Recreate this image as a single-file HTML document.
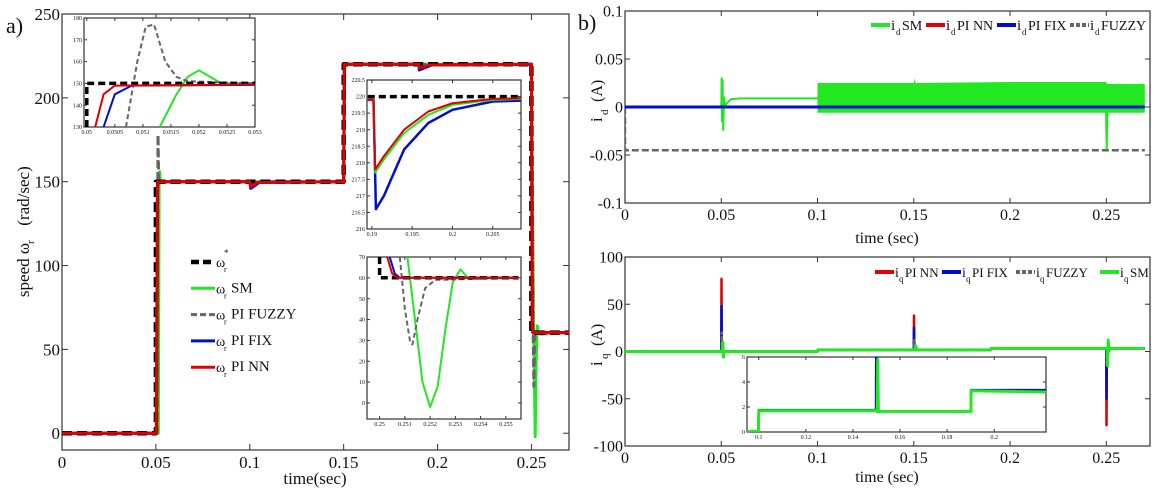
<!DOCTYPE html>
<html><head><meta charset="utf-8">
<style>
html,body{margin:0;padding:0;background:#fff;}
svg{display:block;font-family:"Liberation Serif",serif;}
</style></head>
<body>
<svg id="fig" width="1157" height="489" viewBox="0 0 1157 489" xmlns="http://www.w3.org/2000/svg"></svg>
<script>
// ===== Panel a: speed =====
const aT_ref=[0,0.05,0.05,0.15,0.15,0.25,0.25,0.27];
const aV_ref=[0,0,150,150,220,220,60,60];
const aT_nn=[0,0.0502,0.0508,0.051,0.1,0.1005,0.104,0.15,0.1503,0.19,0.1903,0.196,0.25,0.2504,0.2507,0.27];
const aV_nn=[0,0,148,150,150,147,149.5,150,220,220,217.8,219.6,220,65,60,60];
const aT_fix=[0,0.0503,0.0509,0.0512,0.1,0.1005,0.105,0.15,0.1504,0.19,0.1903,0.197,0.25,0.2504,0.2508,0.27];
const aV_fix=[0,0,147,150,150,146,149.5,150,220,220,216.6,219.6,220,65,60,60];
const aT_fuz=[0,0.0505,0.0511,0.0515,0.0518,0.1,0.15,0.1504,0.25,0.2508,0.2513,0.2518,0.27];
const aV_fuz=[0,0,178,152,150,150,150,220,220,70,28,59,60];
const aT_sm=[0,0.0513,0.0517,0.052,0.0523,0.1,0.15,0.1506,0.25,0.2511,0.252,0.2525,0.2529,0.2532,0.2535,0.27];
const aV_sm=[0,0,150,156,150,150,150,220,220,70,-2,40,60,64,60,60];
const aXTicks=[0,0.05,0.1,0.15,0.2,0.25];
const aXLabels=["0","0.05","0.1","0.15","0.2","0.25"];
const aYTicks=[0,50,100,150,200,250];
// inset 1
const i1T_ref=[0.05,0.05,0.053]; const i1V_ref=[130,150,150];
const i1T_nn=[0.05015,0.0503,0.0505,0.053]; const i1V_nn=[130,145,149,149.5];
const i1T_fix=[0.0503,0.0505,0.0508,0.053]; const i1V_fix=[130,145,149,149.3];
const i1T_fuz=[0.0507,0.0509,0.05105,0.0512,0.0514,0.0516,0.0518,0.053]; const i1V_fuz=[130,160,176,177,160,153,151,150];
const i1T_sm=[0.0513,0.0516,0.0518,0.052,0.0522,0.0524,0.053]; const i1V_sm=[130,145,153,156,153,150,150];
const i1XTicks=[0.05,0.0505,0.051,0.0515,0.052,0.0525,0.053];
const i1XLabels=["0.05","0.0505","0.051","0.0515","0.052","0.0525","0.053"];
const i1YTicks=[130,140,150,160,170,180];
// inset 2
const i2T_ref=[0.1895,0.209]; const i2V_ref=[220,220];
const i2T_nn=[0.1895,0.1902,0.1904,0.1915,0.194,0.197,0.2,0.205,0.209]; const i2V_nn=[219.9,219.9,217.8,218.2,219.0,219.55,219.8,219.93,219.95];
const i2T_sm=[0.1895,0.1902,0.1904,0.1915,0.194,0.197,0.2,0.205,0.209]; const i2V_sm=[219.9,219.9,217.7,218.1,218.9,219.45,219.75,219.9,219.93];
const i2T_fix=[0.1895,0.1902,0.1905,0.1915,0.194,0.197,0.2,0.205,0.209]; const i2V_fix=[219.9,219.9,216.6,217.0,218.4,219.2,219.6,219.85,219.88];
const i2XTicks=[0.19,0.195,0.2,0.205];
const i2XLabels=["0.19","0.195","0.2","0.205"];
const i2YTicks=[216,216.5,217,217.5,218,218.5,219,219.5,220,220.5];
// inset 3
const i3T_ref=[0.25,0.25,0.2555]; const i3V_ref=[70,60,60];
const i3T_nn=[0.2503,0.2505,0.2507,0.2555]; const i3V_nn=[70,62,60,60];
const i3T_fix=[0.2504,0.2506,0.2508,0.2555]; const i3V_fix=[70,62,60,60];
const i3T_fuz=[0.2508,0.251,0.2512,0.2513,0.2515,0.2518,0.2522,0.2555]; const i3V_fuz=[70,45,30,28,40,55,59,60];
const i3T_sm=[0.2511,0.2514,0.2517,0.252,0.2523,0.2526,0.2529,0.2532,0.2535,0.2555]; const i3V_sm=[70,40,10,-2,8,35,58,64,60,60];
const i3XTicks=[0.25,0.251,0.252,0.253,0.254,0.255];
const i3XLabels=["0.25","0.251","0.252","0.253","0.254","0.255"];
const i3YTicks=[0,10,20,30,40,50,60,70];
// ===== Panel b top: id =====
const bT_fuz=[0,0,0.27]; const bV_fuz=[0,-0.045,-0.045];
const bT_blue=[0,0.27]; const bV_blue=[0,0];
const bT_sm=[0,0.05,0.0502,0.0504,0.0507,0.051,0.0515,0.052,0.055,0.06,0.1]; const bV_sm=[0,0,0.03,-0.015,0.028,-0.024,0.01,0.002,0.008,0.009,0.009];
const bBandT=[0.1,0.15,0.1505,0.151,0.2,0.25,0.2502,0.27];
const bBandHi=[0.025,0.025,0.03,0.025,0.026,0.026,0.024,0.024];
const bBandLo=[-0.006,-0.006,-0.006,-0.006,-0.006,-0.006,-0.006,-0.006];
const bSpikeT=[0.2498,0.2502,0.2506]; const bSpikeV=[0,-0.045,0];
const bXTicks=[0,0.05,0.1,0.15,0.2,0.25];
const bXLabels=["0","0.05","0.1","0.15","0.2","0.25"];
const bYTicks=[-0.1,-0.05,0,0.05,0.1];
const bYLabels=["-0.1","-0.05","0","0.05","0.1"];
// ===== Panel b bottom: iq =====
const cT_nn=[0,0.05,0.0501,0.0503,0.1,0.1001,0.15,0.1501,0.1503,0.19,0.1901,0.25,0.2501,0.2503,0.27];
const cV_nn=[0,0,77,0,0,1.7,1.7,38,1.7,1.7,3.3,3.3,-78,3.3,3.3];
const cT_fix=[0,0.05,0.0501,0.0503,0.1,0.1001,0.15,0.1501,0.1503,0.19,0.1901,0.25,0.2501,0.2503,0.27];
const cV_fix=[0,0,48,0,0,1.7,1.7,25,1.7,1.7,3.3,3.3,-50,3.3,3.3];
const cT_fuz=[0,0.0502,0.0503,0.0505,0.1,0.1001,0.15,0.1503,0.1505,0.19,0.1901,0.2502,0.2503,0.2505,0.27];
const cV_fuz=[0,0,20,0,0,1.7,1.7,12,1.7,1.7,3.3,3.3,-15,3.3,3.3];
const cT_sm=[0,0.0505,0.0508,0.0512,0.0515,0.1,0.1001,0.1508,0.151,0.1515,0.19,0.1901,0.2504,0.2507,0.251,0.2514,0.2518,0.27];
const cV_sm=[0,0,10,-6,0,0,1.7,1.7,6,1.7,1.7,3.3,3.3,-15,12,0,3.3,3.3];
const cXTicks=[0,0.05,0.1,0.15,0.2,0.25];
const cXLabels=["0","0.05","0.1","0.15","0.2","0.25"];
const cYTicks=[-100,-50,0,50,100];
// inset iq
const dT_blue=[0.095,0.0998,0.1,0.1498,0.1499,0.15,0.1502,0.1901,0.1902,0.222];
const dV_blue=[0.05,0.05,1.75,1.75,7,1.75,1.65,1.65,3.35,3.35];
const dT_sm=[0.095,0.0998,0.1,0.1503,0.1505,0.1508,0.1512,0.1901,0.1902,0.222];
const dV_sm=[0.05,0.05,1.7,1.7,5.8,1.7,1.65,1.65,3.3,3.2];
const dXTicks=[0.1,0.12,0.14,0.16,0.18,0.2];
const dXLabels=["0.1","0.12","0.14","0.16","0.18","0.2"];
const dYTicks=[0,2,4,6];

const NS="http://www.w3.org/2000/svg";
const svg=document.getElementById('fig');
function mk(tag,attrs,parent){const e=document.createElementNS(NS,tag);for(const k in attrs)e.setAttribute(k,attrs[k]);(parent||svg).appendChild(e);return e;}
function axes(x0,x1,y0,y1,dx0,dx1,dy0,dy1){
  return {x:v=>x0+(v-dx0)/(dx1-dx0)*(x1-x0), y:v=>y1-(v-dy0)/(dy1-dy0)*(y1-y0), x0,x1,y0,y1};
}
function frame(ax,xt,xl,yt,yl,fs,name,tickLen){
  const g=mk('g',{});
  
  
  const r=mk('rect',{x:ax.x0,y:ax.y0,width:ax.x1-ax.x0,height:ax.y1-ax.y0,fill:'#fff',stroke:'#333','stroke-width':1.2},g);
  
  
  xt.forEach((v,i)=>{const X=ax.x(v);
    mk('line',{x1:X,x2:X,y1:ax.y1,y2:ax.y1-tickLen,stroke:'#333'},g);
    mk('line',{x1:X,x2:X,y1:ax.y0,y2:ax.y0+tickLen,stroke:'#333'},g);
    if(xl){const t=mk('text',{x:X,y:ax.y1+fs+1,'font-size':fs,'text-anchor':'middle',fill:'#111'},g);t.textContent=xl[i];
      
      }
  });
  yt.forEach((v,i)=>{const Y=ax.y(v);
    mk('line',{x1:ax.x0,x2:ax.x0+tickLen,y1:Y,y2:Y,stroke:'#333'},g);
    mk('line',{x1:ax.x1,x2:ax.x1-tickLen,y1:Y,y2:Y,stroke:'#333'},g);
    if(yl){const t=mk('text',{x:ax.x0-2,y:Y+fs*0.35,'font-size':fs,'text-anchor':'end',fill:'#111'},g);t.textContent=yl[i];
      
      }
  });
  return g;
}
function line(ax,T,V,color,w,dash,name,parent){
  const pts=T.map((t,i)=>ax.x(t).toFixed(1)+','+ax.y(V[i]).toFixed(1)).join(' ');
  const p=mk('polyline',{points:pts,fill:'none',stroke:color,'stroke-width':w,'stroke-linejoin':'round'},parent);
  if(dash)p.setAttribute('stroke-dasharray',dash);
  
  
  return p;
}
function clipFor(ax,id){const c=mk('clipPath',{id});mk('rect',{x:ax.x0,y:ax.y0,width:ax.x1-ax.x0,height:ax.y1-ax.y0},c);const g=mk('g',{'clip-path':'url(#'+id+')'});return g;}
function txt(x,y,s,fs,attrs,name){const t=mk('text',Object.assign({x,y,'font-size':fs,fill:'#111'},attrs||{}));t.textContent=s;
  
  return t;}
const RED='#e00000',BLUE='#0010c8',GREEN='#22e822',GRAY='#666',BLK='#000';

// ---- Panel a
const A=axes(62,569,14,450,0,0.27,-10,250);
frame(A,aXTicks,aXLabels,aYTicks,aYTicks.map(String),17,'speed-plot',6);
let g=clipFor(A,'ca');
line(A,aT_sm,aV_sm,GREEN,3,null,'series-wr-sm',g);
line(A,aT_fuz,aV_fuz,GRAY,3,'8,4','series-wr-pi-fuzzy',g);
line(A,aT_fix,aV_fix,BLUE,3,null,'series-wr-pi-fix',g);
line(A,aT_ref,aV_ref,BLK,4.5,'10,5','series-wr-reference',g);
line(A,aT_nn,aV_nn,RED,3,null,'series-wr-pi-nn',g);
txt(6,33,'a)',22,{},'panel-a-label');
txt(315,484,'time(sec)',17,{'text-anchor':'middle'},'x-axis-title');
txt(0,0,'speed  ω',17,{'text-anchor':'middle',transform:'translate(29,270) rotate(-90)'},'y-axis-title');
txt(0,0,'r',11,{transform:'translate(34,244) rotate(-90)'},'y-axis-title-sub');
txt(0,0,'(rad/sec)',17,{'text-anchor':'middle',transform:'translate(29,196) rotate(-90)'},'y-axis-title-unit');
// legend a
const legA=[['*',BLK,4.5,'8,4',''],['',GREEN,3,null,'SM'],['',GRAY,3,'6,3','PI FUZZY'],['',BLUE,3,null,' PI FIX'],['',RED,3,null,'PI NN']];
legA.forEach((L,i)=>{const y=262+i*26.3;
  const l=mk('line',{x1:191,x2:215,y1:y,y2:y,stroke:L[1],'stroke-width':L[2]});if(L[3])l.setAttribute('stroke-dasharray',L[3]);
  
  
  txt(216,y+5,'ω',14,{},'legend-omega');
  txt(224,y+10,'r',8,{},'legend-sub');
  if(L[0])txt(224,y-6,'*',9,{},'legend-star');
  txt(231,y+4,L[4],15,{},'legend-entry');
});
// inset 1
const I1=axes(84,255,18,127,0.04995,0.053,130,180);
frame(I1,i1XTicks,i1XLabels,i1YTicks,i1YTicks.map(String),6,'inset-start',3);
g=clipFor(I1,'ci1');
line(I1,i1T_sm,i1V_sm,GREEN,2,null,'inset1-sm',g);
line(I1,i1T_fuz,i1V_fuz,GRAY,2,'5,3','inset1-fuzzy',g);
line(I1,i1T_ref,i1V_ref,BLK,3.5,'7,4','inset1-ref',g);
line(I1,i1T_fix,i1V_fix,BLUE,2,null,'inset1-fix',g);
line(I1,i1T_nn,i1V_nn,RED,2,null,'inset1-nn',g);
// inset 2
const I2=axes(367,521,80,229,0.1894,0.2085,216,220.5);
frame(I2,i2XTicks,i2XLabels,i2YTicks,i2YTicks.map(String),6,'inset-load',3);
g=clipFor(I2,'ci2');
line(I2,i2T_ref,i2V_ref,BLK,3.5,'7,4','inset2-ref',g);
line(I2,i2T_fix,i2V_fix,BLUE,2.5,null,'inset2-fix',g);
line(I2,i2T_sm,i2V_sm,GREEN,2,null,'inset2-sm',g);
line(I2,i2T_nn,i2V_nn,RED,2,null,'inset2-nn',g);
// inset 3
const I3=axes(367,521,257,419,0.2495,0.2556,-7.7,70);
frame(I3,i3XTicks,i3XLabels,i3YTicks,i3YTicks.map(String),6,'inset-step-down',3);
g=clipFor(I3,'ci3');
line(I3,i3T_sm,i3V_sm,GREEN,2,null,'inset3-sm',g);
line(I3,i3T_fuz,i3V_fuz,GRAY,2,'5,3','inset3-fuzzy',g);
line(I3,i3T_ref,i3V_ref,BLK,3.5,'7,4','inset3-ref',g);
line(I3,i3T_fix,i3V_fix,BLUE,2,null,'inset3-fix',g);
line(I3,i3T_nn,i3V_nn,RED,2,null,'inset3-nn',g);

// ---- Panel b top
const B=axes(625,1150,11,203,0,0.2727,-0.1,0.1);
frame(B,bXTicks,bXLabels,bYTicks,bYLabels,16,'id-plot',5);
g=clipFor(B,'cb');
const band=bBandT.map((t,i)=>B.x(t)+','+B.y(bBandHi[i])).concat(bBandT.slice().reverse().map((t,i)=>B.x(t)+','+B.y(bBandLo[bBandT.length-1-i]))).join(' ');
const bp=mk('polygon',{points:band,fill:GREEN},g);


line(B,bT_sm,bV_sm,GREEN,2,null,'series-id-sm',g);
line(B,bSpikeT,bSpikeV,GREEN,2,null,'series-id-sm-spike',g);
line(B,bT_fuz,bV_fuz,GRAY,2.5,'7,3','series-id-fuzzy',g);
line(B,bT_blue,bV_blue,BLUE,3,null,'series-id-pi-fix',g);
txt(578,30,'b)',22,{},'panel-b-label');
txt(887,243,'time (sec)',16,{'text-anchor':'middle'},'id-x-axis-title');
txt(0,0,'i',17,{transform:'translate(602,122) rotate(-90)'},'id-y-axis-title');
txt(0,0,'d',11,{transform:'translate(608,115) rotate(-90)'},'id-y-sub');
txt(0,0,'(A)',16,{transform:'translate(602,102) rotate(-90)'},'id-y-unit');
// legend top
const legB=[[871,GREEN,null,'SM'],[926,RED,null,' PI NN'],[997,BLUE,null,' PI FIX'],[1070,GRAY,'4,2','FUZZY']];
legB.forEach(L=>{const y=25;
  const l=mk('line',{x1:L[0],x2:L[0]+19,y1:y,y2:y,stroke:L[1],'stroke-width':4});if(L[2])l.setAttribute('stroke-dasharray',L[2]);
  
  
  txt(L[0]+20,y+5,'i',15,{},'legend-i');
  txt(L[0]+25,y+10,'d',9,{},'legend-sub');
  txt(L[0]+31,y+5,L[3],14,{},'legend-entry');
});

// ---- Panel b bottom
const C=axes(625,1150,257,446,0,0.2727,-100,100);
frame(C,cXTicks,cXLabels,cYTicks,cYTicks.map(String),16,'iq-plot',5);
g=clipFor(C,'cc');
line(C,cT_nn,cV_nn,RED,2.5,null,'series-iq-pi-nn',g);
line(C,cT_fix,cV_fix,BLUE,2.5,null,'series-iq-pi-fix',g);
line(C,cT_fuz,cV_fuz,GRAY,2.5,'4,2','series-iq-fuzzy',g);
line(C,cT_sm,cV_sm,GREEN,3,null,'series-iq-sm',g);
txt(887,482,'time (sec)',16,{'text-anchor':'middle'},'iq-x-axis-title');
txt(0,0,'i',17,{transform:'translate(602,366) rotate(-90)'},'iq-y-axis-title');
txt(0,0,'q',11,{transform:'translate(608,359) rotate(-90)'},'iq-y-sub');
txt(0,0,'(A)',16,{transform:'translate(602,346) rotate(-90)'},'iq-y-unit');
const legC=[[875,RED,null,'PI NN'],[942,BLUE,null,' PI FIX'],[1016,GRAY,'4,2','FUZZY'],[1100,GREEN,null,'SM']];
legC.forEach(L=>{const y=272;
  const l=mk('line',{x1:L[0],x2:L[0]+19,y1:y,y2:y,stroke:L[1],'stroke-width':4});if(L[2])l.setAttribute('stroke-dasharray',L[2]);
  
  
  txt(L[0]+20,y+5,'i',14,{},'legend-i');
  txt(L[0]+24,y+10,'q',9,{},'legend-sub');
  txt(L[0]+30,y+5,L[3],13,{},'legend-entry');
});
// inset iq
const D=axes(747,1046,357,432,0.095,0.222,0,6);
frame(D,dXTicks,dXLabels,dYTicks,dYTicks.map(String),6,'inset-iq',3);
g=clipFor(D,'cd');
line(D,dT_blue,dV_blue,BLUE,2.5,null,'inset-iq-fix',g);
line(D,dT_sm,dV_sm,GREEN,3,null,'inset-iq-sm',g);
</script>
</body></html>
